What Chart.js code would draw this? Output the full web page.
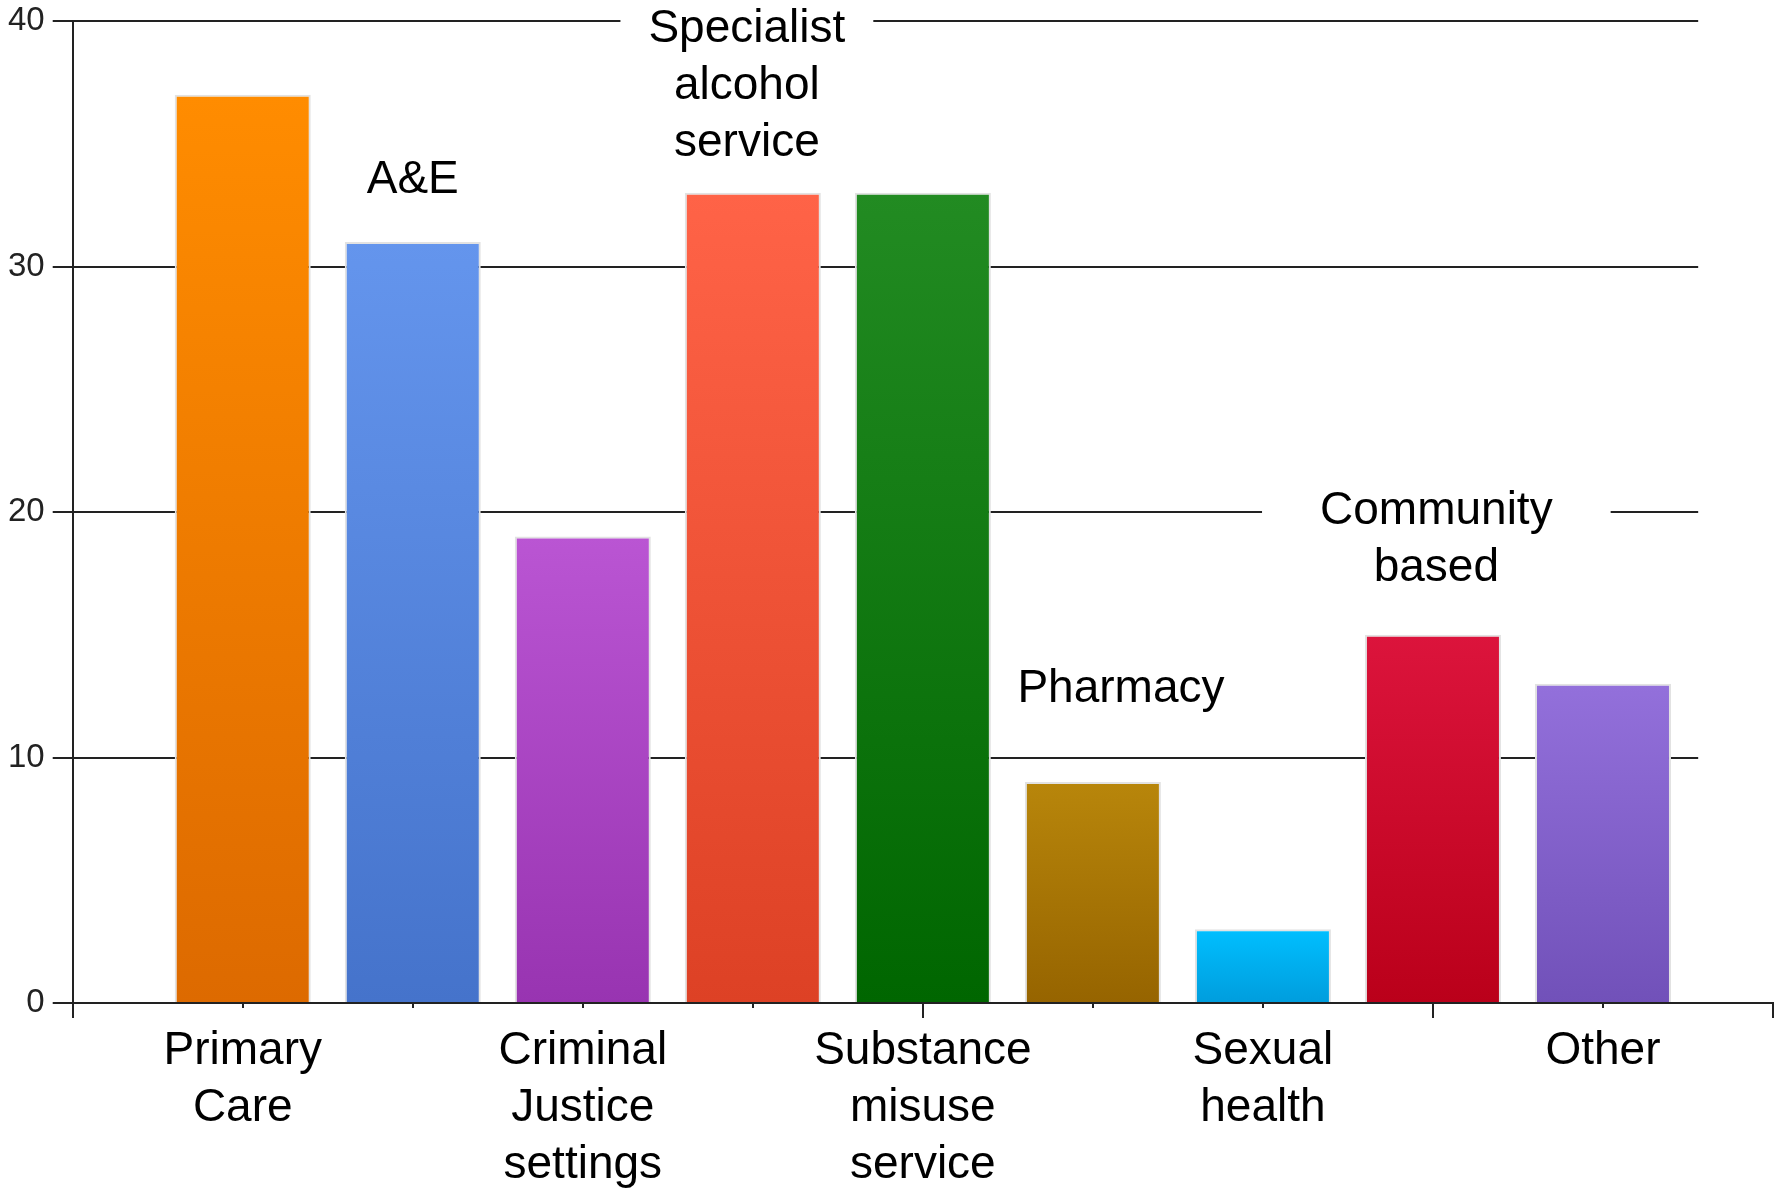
<!DOCTYPE html>
<html>
<head>
<meta charset="utf-8">
<script src="https://cdn.jsdelivr.net/npm/chart.js@4.4.1/dist/chart.umd.min.js"></script>
<style>
  html, body { margin: 0; padding: 0; background: #fff; }
  #wrap { width: 1785px; height: 1196px; position: relative; }
</style>
</head>
<body>
<div id="wrap"><canvas id="servicesChart"></canvas></div>
<script>
// categories and counts
const categories = ['Primary Care', 'A&E', 'Criminal Justice settings', 'Specialist alcohol service',
  'Substance misuse service', 'Pharmacy', 'Sexual health', 'Community based', 'Other'];
const values = [37, 31, 19, 33, 33, 9, 3, 15, 13];

// labels under the axis (every other category) and labels set inside the plot
const axisLabels = [['Primary', 'Care'], '', ['Criminal', 'Justice', 'settings'], '',
  ['Substance', 'misuse', 'service'], '', ['Sexual', 'health'], '', 'Other'];
const innerLabels = [null, ['A&E'], null, ['Specialist', 'alcohol', 'service'], null,
  ['Pharmacy'], null, ['Community', 'based'], null];

const yTicks = [0, 10, 20, 30, 40];

const topColors = ['#FF8C00', '#6495ED', '#BA55D3', '#FF6347', '#228B22', '#B8860B', '#00BFFF', '#DC143C', '#9370DB'];
const bottomColors = ['#DD6A00', '#4573CB', '#9834B1', '#DD4125', '#006600', '#966400', '#009DDD', '#BA001A', '#7151B9'];

const FONT = "'Liberation Sans', Arial, sans-serif";

function barFill(ctx) {
  const i = ctx.dataIndex;
  const chart = ctx.chart;
  if (!chart.chartArea || ctx.type !== 'data') return topColors[i];
  const y = chart.scales.y;
  const top = y.getPixelForValue(values[i]);
  const bottom = y.getPixelForValue(0);
  const g = chart.ctx.createLinearGradient(0, top, 0, bottom);
  g.addColorStop(0, topColors[i]);
  g.addColorStop(1, bottomColors[i]);
  return g;
}

// gridlines stop short of the right end, x ticks come in two lengths,
// and the inner labels sit on white boxes that break the gridlines
const extrasPlugin = {
  id: 'extras',
  beforeDatasetsDraw(chart) {
    const { ctx, chartArea, scales: { x, y } } = chart;
    const right = x.getPixelForValue(8.56);
    ctx.save();
    ctx.strokeStyle = '#222';
    ctx.lineWidth = 2;
    yTicks.forEach(v => {
      if (v === 0) return;
      const py = Math.round(y.getPixelForValue(v));
      ctx.beginPath();
      ctx.moveTo(chartArea.left, py);
      ctx.lineTo(right, py);
      ctx.stroke();
    });
    ctx.restore();
  },
  afterDatasetsDraw(chart) {
    const { ctx, scales: { x, y } } = chart;
    const base = y.getPixelForValue(0);

    ctx.save();
    ctx.strokeStyle = '#222';
    ctx.lineWidth = 2;
    const major = [-1, 4, 7, 9];
    for (let i = -1; i <= 9; i++) {
      const isMajor = major.includes(i);
      if (!isMajor && (i < 0 || i > 8)) continue;
      const px = Math.round(x.getPixelForValue(i));
      ctx.beginPath();
      ctx.moveTo(px, base);
      ctx.lineTo(px, base + (isMajor ? 15 : 5));
      ctx.stroke();
    }

    const place = {
      1: { dx: 0, baseline: 33.0, pad: 10 },
      3: { dx: -0.035, baseline: 34.5, pad: 28 },
      5: { dx: 0.165, baseline: 12.26, pad: 10 },
      7: { dx: 0.02, baseline: 17.2, pad: 58 }
    };
    const lineH = 57;
    ctx.font = '46px ' + FONT;
    ctx.textAlign = 'center';
    ctx.textBaseline = 'alphabetic';
    innerLabels.forEach((lines, i) => {
      if (!lines) return;
      const p = place[i];
      const cx = x.getPixelForValue(i + p.dx);
      const lastBase = y.getPixelForValue(p.baseline);
      const firstBase = lastBase - (lines.length - 1) * lineH;
      const w = Math.max(...lines.map(l => ctx.measureText(l).width));
      ctx.fillStyle = '#fff';
      ctx.fillRect(cx - w / 2 - p.pad, firstBase - 44, w + p.pad * 2, lastBase - firstBase + 56);
      ctx.fillStyle = '#000';
      lines.forEach((l, k) => ctx.fillText(l, cx, firstBase + k * lineH));
    });
    ctx.restore();
  }
};

new Chart(document.getElementById('servicesChart'), {
  type: 'bar',
  data: {
    datasets: [{
      data: values.map((v, i) => ({ x: i, y: v })),
      backgroundColor: barFill,
      borderColor: '#e2e2e2',
      borderWidth: 2,
      borderSkipped: 'bottom',
      categoryPercentage: 1,
      barPercentage: 0.8
    }]
  },
  options: {
    responsive: true,
    maintainAspectRatio: false,
    animation: false,
    layout: { padding: { left: 0, right: 12, top: 21, bottom: -18 } },
    plugins: {
      legend: { display: false },
      tooltip: { enabled: false }
    },
    scales: {
      x: {
        type: 'linear',
        min: -1,
        max: 9,
        offset: false,
        afterBuildTicks: scale => { scale.ticks = categories.map((c, i) => ({ value: i })); },
        grid: { offset: false, drawOnChartArea: false, drawTicks: false, tickLength: 0 },
        border: { display: true, color: '#222', width: 2 },
        ticks: {
          autoSkip: false,
          minRotation: 0,
          maxRotation: 0,
          padding: 20,
          color: '#000',
          font: { family: FONT, size: 46, lineHeight: '57px' },
          callback: value => axisLabels[value] ?? ''
        }
      },
      y: {
        min: 0,
        max: 40,
        afterBuildTicks: scale => { scale.ticks = yTicks.map(v => ({ value: v })); },
        afterFit: scale => { scale.paddingTop = 0; },
        grid: { drawOnChartArea: false, drawTicks: true, tickLength: 20, color: '#222', lineWidth: 2 },
        border: { display: true, color: '#222', width: 2 },
        ticks: {
          padding: 8,
          color: '#222',
          font: { family: FONT, size: 33 }
        }
      }
    }
  },
  plugins: [extrasPlugin]
});
</script>
</body>
</html>
